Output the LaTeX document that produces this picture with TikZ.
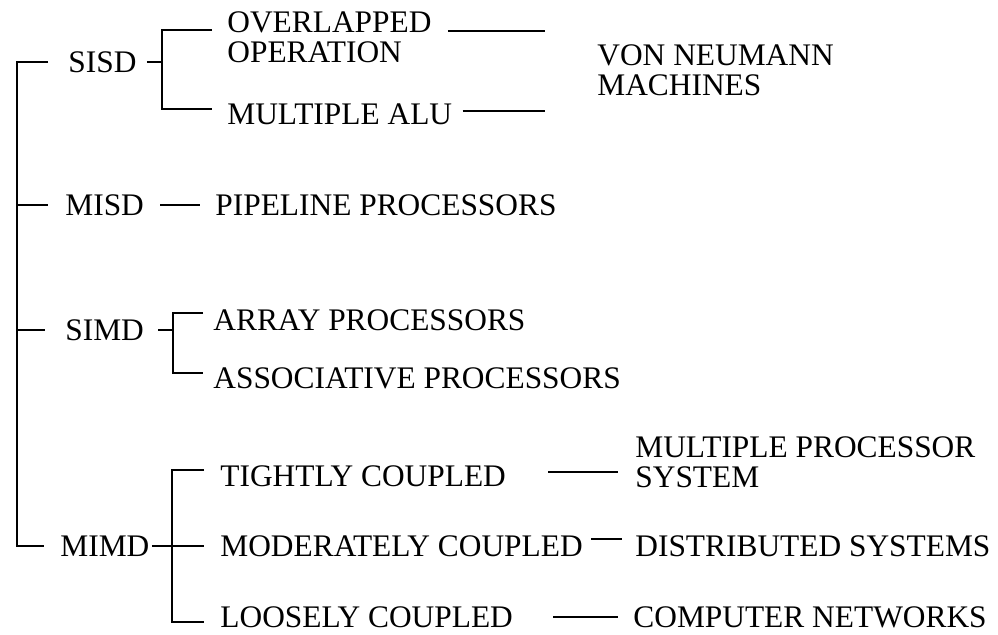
\documentclass[tikz,border=0pt]{standalone}
\usepackage{fontspec}
\setmainfont{Liberation Serif}
\usetikzlibrary{calc}
\tikzset{
  tree/.style={draw=black, line width=1.1pt},
  cls/.style={anchor=west, inner sep=0pt},
  leaf/.style={anchor=west, inner sep=0pt, align=left}
}
\begin{document}
\begin{tikzpicture}[x=0.5pt, y=-0.5pt, font=\fontsize{15.7}{14.8}\selectfont]
    \useasboundingbox (0,0) rectangle (998,634);
    \coordinate (trunk) at (17,0);
    \coordinate (sisdsp) at (162,0);
    \coordinate (simdsp) at (173,0);
    \coordinate (mimdsp) at (172,0);

    \node[cls] (sisd) at (68,62) {SISD};
    \node[cls] (misd) at (65,205) {MISD};
    \node[cls] (simd) at (65,330) {SIMD};
    \node[cls] (mimd) at (60,546) {MIMD};

    \node[leaf] (ovl)   at (227,37)  {OVERLAPPED\\OPERATION};
    \node[leaf] (alu)   at (227,114) {MULTIPLE ALU};
    \node[leaf] (von)   at (597,70)  {VON NEUMANN\\MACHINES};
    \node[leaf] (pipe)  at (215,205) {PIPELINE PROCESSORS};
    \node[leaf] (arr)   at (213,320) {ARRAY PROCESSORS};
    \node[leaf] (asc)   at (213,378) {ASSOCIATIVE PROCESSORS};
    \node[leaf] (tight) at (220,476) {TIGHTLY COUPLED};
    \node[leaf] (mod)   at (220,546) {MODERATELY COUPLED};
    \node[leaf] (loose) at (220,617) {LOOSELY COUPLED};
    \node[leaf] (mps)   at (635,462) {MULTIPLE PROCESSOR\\SYSTEM};
    \node[leaf] (dist)  at (635,546) {DISTRIBUTED SYSTEMS};
    \node[leaf] (net)   at (633,617) {COMPUTER NETWORKS};

    % main trunk
    \draw[tree] ([xshift=-10pt]sisd.west) -| (trunk |- mimd.west) -- ([xshift=-8pt]mimd.west);
    \draw[tree] (trunk |- misd.west) -- ([xshift=-8.5pt]misd.west);
    \draw[tree] (trunk |- simd.west) -- ([xshift=-10pt]simd.west);

    % SISD
    \draw[tree] ([xshift=5pt]sisd.east) -- (sisdsp |- sisd.east);
    \draw[tree] ($(ovl.north west)+(-15,19)$) -| ($(sisdsp |- alu.west)+(0,-5)$) -- ($(alu.west)+(-15,-5)$);
    \draw[tree] ($(ovl.north east)+(16,20)$) -- ($(von.west |- ovl.north)+(-52,20)$);
    \draw[tree] ($(alu.east)+(10,-3)$) -- ($(von.west |- alu.east)+(-52,-3)$);

    % MISD
    \draw[tree] ([xshift=8pt]misd.east) -- ([xshift=-7.5pt]pipe.west);

    % SIMD
    \draw[tree] ([xshift=7pt]simd.east) -- (simdsp |- simd.east);
    \draw[tree] ($(arr.west)+(-10,-7)$) -| ($(simdsp |- asc.west)+(0,-5)$) -- ($(asc.west)+(-10,-5)$);

    % MIMD
    \draw[tree] ([xshift=1pt]mimd.east) -- ([xshift=-8pt]mod.west);
    \draw[tree] ($(tight.west)+(-16,-6)$) -| ($(mimdsp |- loose.west)+(0,5)$) -- ($(loose.west)+(-16,5)$);
    \draw[tree] ($(tight.east)+(42,-4)$) -- ($(mps.west |- tight.east)+(-17,-4)$);
    \draw[tree] ($(mod.east)+(8,-7)$) -- ($(dist.west |- mod.east)+(-13,-7)$);
    \draw[tree] ($(loose.east)+(40,0)$) -- ($(net.west |- loose.east)+(-15,0)$);
    % \draw[tree] (trunk |- sisd.west) -- (trunk |- mimd.west);
\end{tikzpicture}
\end{document}
